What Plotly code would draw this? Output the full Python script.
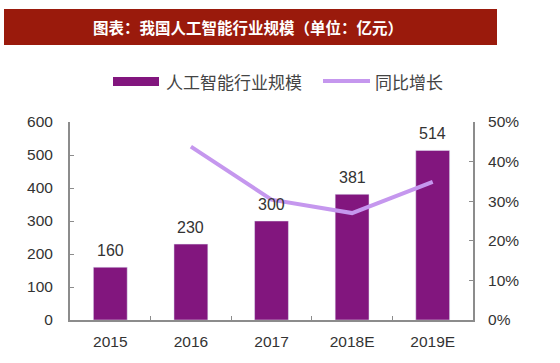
import plotly.graph_objects as go

categories = ["2015", "2016", "2017", "2018E", "2019E"]
market_size = [160, 230, 300, 381, 514]
growth_pct = [None, 43.8, 30.4, 27.0, 34.9]
left_ticks = [0, 100, 200, 300, 400, 500, 600]
right_ticks = [0, 10, 20, 30, 40, 50]
right_tick_labels = ["0%", "10%", "20%", "30%", "40%", "50%"]

W, H = 560, 363
L, R, T, B = 70, 473, 122, 320
PW, PH = R - L, B - T

def px(x):
    return (x - L) / PW

def py(y):
    return (B - y) / PH

BAR = "#82167E"
LINE = "#C597EE"
TXT = "#333333"
AX = "#8c8c8c"

fig = go.Figure()
fig.add_trace(go.Bar(x=categories, y=market_size, marker_color=BAR, width=0.42,
                     name="人工智能行业规模", showlegend=False))
fig.add_trace(go.Scatter(x=categories, y=growth_pct, mode="lines", yaxis="y2",
                         line=dict(color=LINE, width=4), name="同比增长",
                         showlegend=False))

annotations = []
for i, v in enumerate(market_size):
    annotations.append(dict(x=i, y=v, xref="x", yref="y", text=str(v), showarrow=False,
                            yanchor="bottom", yshift=6,
                            font=dict(family="Liberation Sans, Arial", size=16, color=TXT)))

# title bar
shapes = [dict(type="rect", xref="paper", yref="paper", x0=px(4), x1=px(497),
               y0=py(45), y1=py(9), fillcolor="#9A1A0C", line=dict(width=0), layer="above")]
annotations.append(dict(xref="paper", yref="paper", x=px(248), y=py(27), showarrow=False,
                        xanchor="center", yanchor="middle",
                        text="<b>图表：我国人工智能行业规模（单位：亿元）</b>",
                        font=dict(family="Noto Sans CJK SC", size=15.5, color="white")))

# legend
shapes.append(dict(type="rect", xref="paper", yref="paper", x0=px(113), x1=px(159),
                   y0=py(86), y1=py(77), fillcolor=BAR, line=dict(width=0)))
shapes.append(dict(type="line", xref="paper", yref="paper", x0=px(323), x1=px(370),
                   y0=py(81), y1=py(81), line=dict(color=LINE, width=4)))
annotations.append(dict(xref="paper", yref="paper", x=px(164), y=py(81), showarrow=False,
                        xanchor="left", yanchor="middle", text="人工智能行业规模",
                        font=dict(family="Noto Sans CJK SC", size=17, color="#444444")))
annotations.append(dict(xref="paper", yref="paper", x=px(373), y=py(81), showarrow=False,
                        xanchor="left", yanchor="middle", text="同比增长",
                        font=dict(family="Noto Sans CJK SC", size=17, color="#444444")))

tickfont = dict(family="Liberation Sans, Arial", size=15.5, color=TXT)

fig.update_layout(
    width=W, height=H,
    margin=dict(l=L, r=W - R, t=T, b=H - B),
    paper_bgcolor="white", plot_bgcolor="white",
    showlegend=False,
    shapes=shapes,
    annotations=annotations,
    xaxis=dict(type="category", categoryorder="array", categoryarray=categories,
               range=[-0.5, len(categories) - 0.5], showline=True, linecolor=AX, linewidth=2,
               ticks="inside", ticklen=4, tickcolor=AX, tickson="boundaries",
               tickfont=tickfont, tickangle=0, showgrid=False, zeroline=False,
               ticklabelstandoff=6),
    yaxis=dict(range=[0, 600], tickvals=left_ticks, showline=True, linecolor=AX, linewidth=2,
               ticks="inside", ticklen=4, tickcolor=AX, tickfont=tickfont,
               showgrid=False, zeroline=False, ticklabelstandoff=12),
    yaxis2=dict(range=[0, 50], tickvals=right_ticks, ticktext=right_tick_labels,
                overlaying="y", side="right", showline=True, linecolor=AX, linewidth=2,
                ticks="inside", ticklen=4, tickcolor=AX, tickfont=tickfont,
                showgrid=False, zeroline=False, ticklabelstandoff=10),
)

fig.write_html("out.html", post_script="document.body.style.margin='0';",
               config={"displayModeBar": False})
